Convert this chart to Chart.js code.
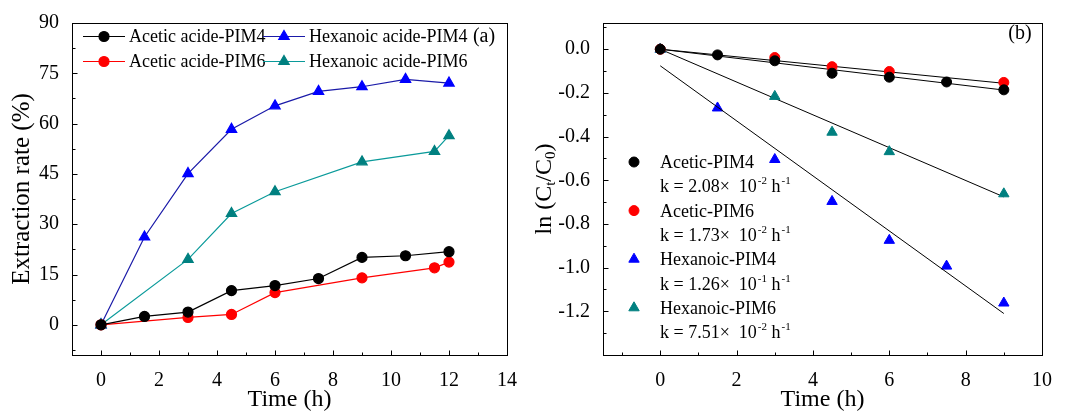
<!DOCTYPE html>
<html><head><meta charset="utf-8">
<script src="https://cdn.jsdelivr.net/npm/chart.js@4.4.0/dist/chart.umd.min.js"></script>
<style>
body{margin:0;background:#fff;width:1065px;height:412px;overflow:hidden;position:relative}
#ca{position:absolute;left:0;top:0}
#cb{position:absolute;left:530px;top:0}
</style></head><body>
<canvas id="ca" width="530" height="412"></canvas>
<canvas id="cb" width="535" height="412"></canvas>
<script>
// ---------- Panel (a) data ----------
const timeA = [0, 1.5, 3, 4.5, 6, 7.5, 9, 10.5, 12];
const aceticPIM4 = [0, 2.5, 3.8, 10.2, 11.7, 13.8, 20.1, 20.6, 21.8];
const hexanoicPIM4 = [0, 26.2, 45.1, 58.3, 65.3, 69.6, 71.0, 73.2, 72.1];
const timeA6 = [0, 3, 4.5, 6, 9, 11.5, 12];
const aceticPIM6 = [0, 2.2, 3.1, 9.6, 14.0, 17.0, 18.7];
const hexanoicPIM6 = [0, 19.5, 33.2, 39.7, 48.6, 51.7, 56.4];
const legendA = ['Acetic acide-PIM4', 'Hexanoic acide-PIM4', 'Acetic acide-PIM6', 'Hexanoic acide-PIM6'];
const xTitle = 'Time (h)';
const yTitleA = 'Extraction rate (%)';

// ---------- Panel (b) data ----------
const timeB = [0, 1.5, 3, 4.5, 6, 7.5, 9];
const lnAceticPIM4 = [0, -0.026, -0.053, -0.110, -0.128, -0.150, -0.186];
const lnHexanoicPIM4 = [0, -0.269, -0.505, -0.697, -0.875, -0.993, -1.162];
const timeB6 = [0, 3, 4.5, 6, 9];
const lnAceticPIM6 = [0, -0.038, -0.080, -0.102, -0.152];
const lnHexanoicPIM6 = [0, -0.216, -0.380, -0.469, -0.662];
const fitX = [0, 9];
const fitAceticPIM4 = [0, -0.187];
const fitAceticPIM6 = [0, -0.156];
const fitHexanoicPIM4 = [-0.076, -1.210];
const fitHexanoicPIM6 = [0, -0.676];
const legendB = ['Acetic-PIM4', 'Acetic-PIM6', 'Hexanoic-PIM4', 'Hexanoic-PIM6'];
const kMantissa = ['2.08', '1.73', '1.26', '7.51'];
const kExponent = ['-2', '-2', '-1', '-2'];

const FONT = "'Liberation Serif', 'Times New Roman', serif";
const pts = (xs, ys) => xs.map((x, i) => ({x, y: ys[i]}));

const frameTicks = {
  id: 'frameTicks',
  afterDraw(chart, args, opts) {
    const ctx = chart.ctx, a = chart.chartArea;
    ctx.save();
    ctx.strokeStyle = '#000'; ctx.lineWidth = 1;
    const L = Math.round(a.left) + 0.5, T = Math.round(a.top) + 0.5, R = Math.round(a.right) + 0.5, B = Math.round(a.bottom) + 0.5;
    ctx.strokeRect(L, T, R - L, B - T);
    const drawAxis = (s, step, horiz) => {
      const minor = step / 2;
      const start = Math.ceil(s.min / minor - 1e-9);
      for (let i = start; i * minor <= s.max + 1e-9; i++) {
        const v = i * minor;
        const major = Math.abs(Math.round(v / step) * step - v) < 1e-9;
        const len = major ? 5 : 3;
        const p = Math.round(s.getPixelForValue(v)) + 0.5;
        ctx.beginPath();
        if (horiz) { ctx.moveTo(p, B); ctx.lineTo(p, B - len); }
        else { ctx.moveTo(L, p); ctx.lineTo(L + len, p); }
        ctx.stroke();
      }
    };
    drawAxis(chart.scales.x, opts.xStep, true);
    drawAxis(chart.scales.y, opts.yStep, false);
    // x axis title
    ctx.fillStyle = '#000'; ctx.font = '400 24px ' + FONT;
    ctx.textAlign = 'center'; ctx.textBaseline = 'middle';
    ctx.fillText(opts.xTitle, (a.left + a.right) / 2, 400);
    if (opts.yTitle) {
      ctx.translate(opts.yTitleX, (a.top + a.bottom) / 2);
      ctx.rotate(-Math.PI / 2);
      ctx.font = '400 25px ' + FONT;
      ctx.fillText(opts.yTitle, 0, 0);
    }
    ctx.restore();
  }
};

const legendAPlugin = {
  id: 'legendA',
  afterDraw(chart) {
    const ctx = chart.ctx;
    const ds = chart.data.datasets;
    const entries = [
      {d: ds[0], text: legendA[0], x: 83, y: 36},
      {d: ds[3], text: legendA[1], x: 263, y: 36},
      {d: ds[1], text: legendA[2], x: 83, y: 61},
      {d: ds[2], text: legendA[3], x: 263, y: 61},
    ];
    ctx.save();
    entries.forEach(e => {
      ctx.strokeStyle = e.d.borderColor; ctx.lineWidth = 1.2;
      ctx.beginPath(); ctx.moveTo(e.x, e.y + 0.5); ctx.lineTo(e.x + 42, e.y + 0.5); ctx.stroke();
      ctx.fillStyle = e.d.pointBackgroundColor; ctx.strokeStyle = e.d.pointBorderColor;
      Chart.helpers.drawPoint(ctx, {pointStyle: e.d.pointStyle, radius: e.d.pointRadius, borderWidth: 1, rotation: 0}, e.x + 21, e.y + 0.5);
      ctx.fillStyle = '#000'; ctx.font = '18px ' + FONT; ctx.textBaseline = 'middle'; ctx.textAlign = 'left';
      ctx.fillText(e.text, e.x + 46, e.y + 1);
    });
    ctx.font = '20px ' + FONT; ctx.textAlign = 'center';
    ctx.fillText('(a)', 484, 37);
    ctx.restore();
  }
};

const legendBPlugin = {
  id: 'legendB',
  afterDraw(chart) {
    const ctx = chart.ctx;
    const ds = chart.data.datasets;
    const mk = [ds[0], ds[1], ds[3], ds[2]];
    ctx.save();
    ctx.textBaseline = 'alphabetic'; ctx.textAlign = 'left';
    for (let i = 0; i < 4; i++) {
      const y1 = 162 + i * 48.6, y2 = y1 + 24.3;
      ctx.fillStyle = mk[i].pointBackgroundColor; ctx.strokeStyle = mk[i].pointBorderColor;
      Chart.helpers.drawPoint(ctx, {pointStyle: mk[i].pointStyle, radius: mk[i].pointRadius, borderWidth: 1, rotation: 0}, 104, y1);
      ctx.fillStyle = '#000';
      ctx.font = '18px ' + FONT;
      ctx.fillText(legendB[i], 130, y1 + 6);
      let x = 130;
      const base = y2 + 6;
      const t1 = 'k = ' + kMantissa[i] + '\u00d7  10';
      ctx.fillText(t1, x, base); x += ctx.measureText(t1).width;
      ctx.font = '11px ' + FONT;
      ctx.fillText(kExponent[i], x + 1, base - 8); x += ctx.measureText(kExponent[i]).width + 1;
      ctx.font = '18px ' + FONT;
      ctx.fillText(' h', x, base); x += ctx.measureText(' h').width;
      ctx.font = '11px ' + FONT;
      ctx.fillText('-1', x + 1, base - 8);
    }
    ctx.font = '20px ' + FONT; ctx.textAlign = 'center'; ctx.textBaseline = 'middle';
    ctx.fillText('(b)', 490, 34);
    const a = chart.chartArea;
    ctx.translate(15, (a.top + a.bottom) / 2);
    ctx.rotate(-Math.PI / 2);
    const parts = [['ln (C', 24, 0], ['t', 15, 6], ['/C', 24, 0], ['0', 15, 6], [')', 24, 0]];
    let w = 0;
    parts.forEach(p => { ctx.font = p[1] + 'px ' + FONT; w += ctx.measureText(p[0]).width; });
    let x = -w / 2;
    ctx.textAlign = 'left';
    parts.forEach(p => { ctx.font = p[1] + 'px ' + FONT; ctx.fillText(p[0], x, p[2]); x += ctx.measureText(p[0]).width; });
    ctx.restore();
  }
};

const tickFont = {family: FONT, size: 20, weight: 'normal'};

new Chart(document.getElementById('ca'), {
  type: 'line',
  data: {
    datasets: [
      {data: pts(timeA, aceticPIM4), borderColor: '#000', pointBackgroundColor: '#000', pointBorderColor: '#000', pointStyle: 'circle', pointRadius: 5, borderWidth: 1.2},
      {data: pts(timeA6, aceticPIM6), borderColor: '#ff0000', pointBackgroundColor: '#ff0000', pointBorderColor: '#ff0000', pointStyle: 'circle', pointRadius: 5, borderWidth: 1.2},
      {data: pts(timeA6, hexanoicPIM6), borderColor: '#0a9a9a', pointBackgroundColor: '#008080', pointBorderColor: '#008080', pointStyle: 'triangle', pointRadius: 6, borderWidth: 1.2},
      {data: pts(timeA, hexanoicPIM4), borderColor: '#1a1aa8', pointBackgroundColor: '#0000ff', pointBorderColor: '#0000ff', pointStyle: 'triangle', pointRadius: 6, borderWidth: 1.2},
    ]
  },
  options: {
    responsive: false, animation: false,
    layout: {padding: {left: 0, right: 23, top: 23, bottom: 0}},
    plugins: {legend: {display: false}, tooltip: {enabled: false},
      frameTicks: {xStep: 2, yStep: 15, xTitle: xTitle, yTitle: yTitleA, yTitleX: 22}},
    scales: {
      x: {type: 'linear', min: -1, max: 14, ticks: {stepSize: 2, includeBounds: false, font: tickFont, color: '#000', padding: 6, maxRotation: 0},
          grid: {display: false}, border: {display: false},
          afterFit: s => { s.height = 57; }},
      y: {type: 'linear', min: -9, max: 90, ticks: {stepSize: 15, includeBounds: false, font: tickFont, color: '#000', padding: 5},
          grid: {display: false}, border: {display: false},
          afterFit: s => { s.width = 72; }}
    }
  },
  plugins: [frameTicks, legendAPlugin]
});

const fitStyle = {type: 'line', borderColor: '#000', borderWidth: 1, pointRadius: 0, showLine: true, fill: false};
new Chart(document.getElementById('cb'), {
  type: 'scatter',
  data: {
    datasets: [
      {data: pts(timeB, lnAceticPIM4), backgroundColor: '#000', pointBackgroundColor: '#000', pointBorderColor: '#000', pointStyle: 'circle', pointRadius: 5},
      {data: pts(timeB6, lnAceticPIM6), backgroundColor: '#ff0000', pointBackgroundColor: '#ff0000', pointBorderColor: '#ff0000', pointStyle: 'circle', pointRadius: 5},
      {data: pts(timeB6, lnHexanoicPIM6), backgroundColor: '#008080', pointBackgroundColor: '#008080', pointBorderColor: '#008080', pointStyle: 'triangle', pointRadius: 6},
      {data: pts(timeB, lnHexanoicPIM4), backgroundColor: '#0000ff', pointBackgroundColor: '#0000ff', pointBorderColor: '#0000ff', pointStyle: 'triangle', pointRadius: 6, order: 1},
      Object.assign({data: pts(fitX, fitAceticPIM4)}, fitStyle),
      Object.assign({data: pts(fitX, fitAceticPIM6)}, fitStyle),
      Object.assign({data: pts(fitX, fitHexanoicPIM4)}, fitStyle),
      Object.assign({data: pts(fitX, fitHexanoicPIM6)}, fitStyle),
    ]
  },
  options: {
    responsive: false, animation: false,
    layout: {padding: {left: 0, right: 23, top: 23, bottom: 0}},
    plugins: {legend: {display: false}, tooltip: {enabled: false},
      frameTicks: {xStep: 2, yStep: 0.2, xTitle: xTitle}},
    scales: {
      x: {type: 'linear', min: -1.5, max: 10, ticks: {stepSize: 2, includeBounds: false, font: tickFont, color: '#000', padding: 6, maxRotation: 0},
          grid: {display: false}, border: {display: false},
          afterFit: s => { s.height = 57; }},
      y: {type: 'linear', min: -1.4, max: 0.12, ticks: {stepSize: 0.2, includeBounds: false, font: tickFont, color: '#000', padding: 5,
            callback: v => (Math.abs(v) < 1e-9 ? 0 : v).toFixed(1)},
          grid: {display: false}, border: {display: false},
          afterFit: s => { s.width = 73; }}
    }
  },
  plugins: [frameTicks, legendBPlugin]
});
</script>
</body></html>
